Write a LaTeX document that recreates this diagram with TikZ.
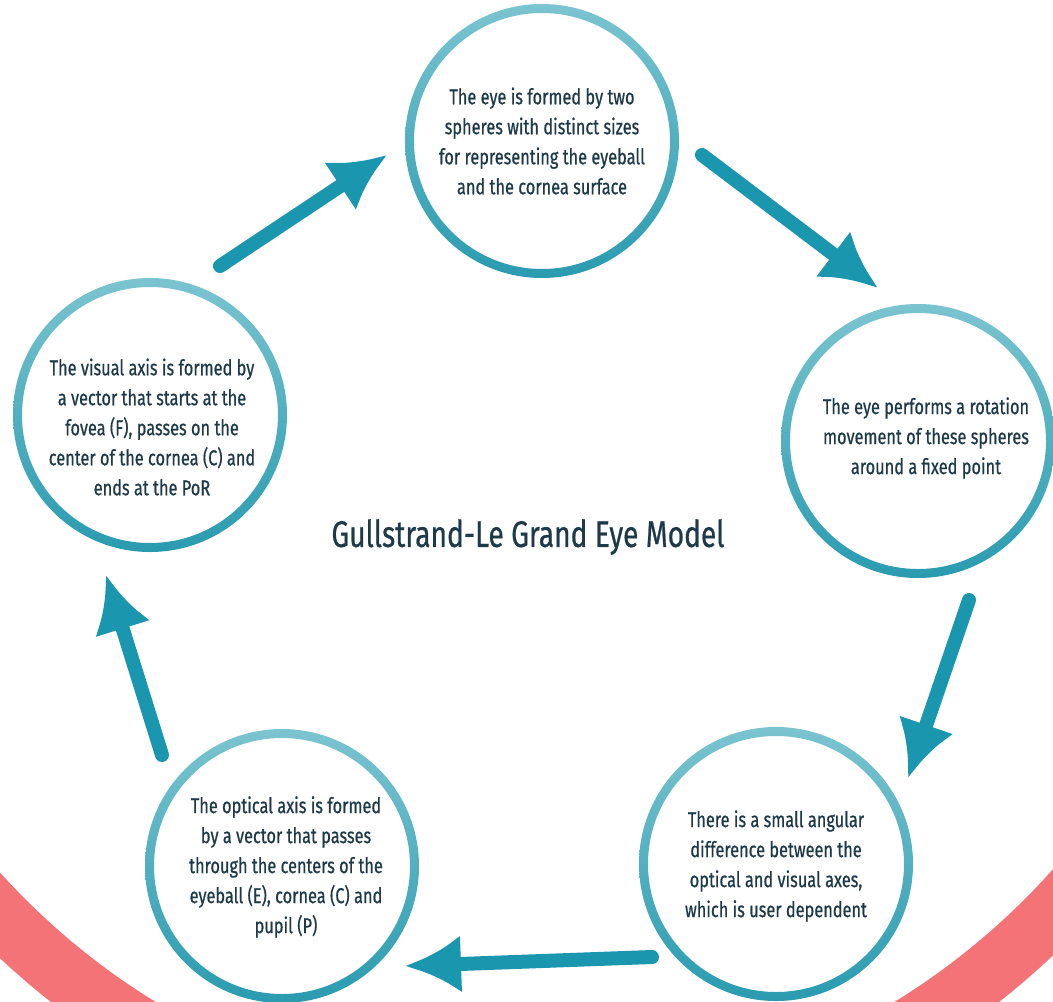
\documentclass[tikz,border=0pt]{standalone}
\usepackage{fontspec}
\setmainfont[FakeStretch=0.76,FakeBold=0.6]{Fira Sans}
\usetikzlibrary{arrows.meta}
\definecolor{ringTop}{HTML}{7BC4D0}
\definecolor{ringBot}{HTML}{2A9BB0}
\definecolor{arrowCol}{HTML}{1A96AE}
\definecolor{textCol}{HTML}{1E3948}
\definecolor{redCol}{HTML}{F47377}
\tikzset{
  stepnode/.style={text=textCol, align=center, font=\fontsize{21.5}{30}\selectfont, inner sep=0pt},
  flowarrow/.style={draw=arrowCol, line width=14pt, line cap=round, -{Latex[length=56pt,width=58pt]}},
}
\newcommand{\ringat}[1]{%
  \shade[top color=ringTop, bottom color=ringBot, even odd rule]
    (#1) circle (137pt) (#1) circle (128pt);}
\begin{document}
\begin{tikzpicture}[x=1pt,y=-1pt]
\useasboundingbox (0,0) rectangle (1053,1002);
\clip (0,0) rectangle (1053,1002);
\fill[white] (0,0) rectangle (1053,1002);
% red ring
\coordinate (big) at (525,399);
\draw[redCol, line width=60pt] (big) circle (737pt);
% nodes
\node[stepnode] (c1) at (542,141) {The eye is formed by two\\spheres with distinct sizes\\for representing the eyeball\\and the cornea surface};
\node[stepnode] (c2) at (926,438) {The eye performs a rotation\\movement of these spheres\\around a fixed point};
\node[stepnode] (c3) at (776,866) {There is a small angular\\difference between the\\optical and visual axes,\\which is user dependent};
\node[stepnode] (c4) at (286,867) {The optical axis is formed\\by a vector that passes\\through the centers of the\\eyeball (E), cornea (C) and\\pupil (P)};
\node[stepnode] (c5) at (152,427) {The visual axis is formed by\\a vector that starts at the\\fovea (F), passes on the\\center of the cornea (C) and\\ends at the PoR};
\coordinate (k1) at (542,141);
\coordinate (k2) at (918,441);
\coordinate (k3) at (776,864);
\coordinate (k4) at (282,866);
\coordinate (k5) at (150,415);
\ringat{k1}
\ringat{k2}
\ringat{k3}
\ringat{k4}
\ringat{k5}
\node[text=textCol, font=\fontsize{37}{40}\selectfont, inner sep=0pt] (title) at (528,537) {Gullstrand-Le Grand Eye Model};
% arrows
\coordinate (a1s) at (220,266);
\coordinate (a1e) at (387,155);
\coordinate (a2s) at (702,155);
\coordinate (a2e) at (878,288);
\coordinate (a3s) at (969,600);
\coordinate (a3e) at (908,778);
\coordinate (a4s) at (652,957);
\coordinate (a4e) at (405,966);
\coordinate (a5s) at (162,755);
\coordinate (a5e) at (106,575);
\draw[flowarrow] (a1s) -- (a1e);
\draw[flowarrow] (a2s) -- (a2e);
\draw[flowarrow] (a3s) -- (a3e);
\draw[flowarrow] (a4s) -- (a4e);
\draw[flowarrow] (a5s) -- (a5e);
\end{tikzpicture}
\end{document}
